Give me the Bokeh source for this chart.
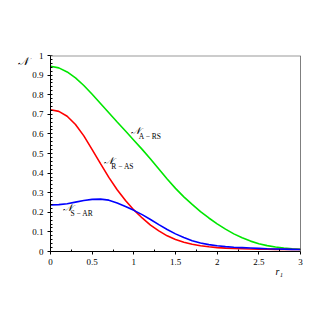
from bokeh.plotting import figure
from bokeh.models import Range1d, Span, FixedTicker, Label, Title
from bokeh.embed import file_html
from bokeh.resources import INLINE

r1 = [0.0, 0.1, 0.2, 0.3, 0.4, 0.5, 0.6, 0.7, 0.8, 0.9, 1.0,
      1.1, 1.2, 1.3, 1.4, 1.5, 1.6, 1.7, 1.8, 1.9, 2.0,
      2.1, 2.2, 2.3, 2.4, 2.5, 2.6, 2.7, 2.8, 2.9, 3.0]

n_a_rs = [0.945, 0.937, 0.916, 0.886, 0.847, 0.802, 0.755, 0.708, 0.661, 0.615, 0.568,
          0.521, 0.472, 0.421, 0.370, 0.322, 0.279, 0.240, 0.204, 0.171, 0.141,
          0.114, 0.090, 0.070, 0.053, 0.040, 0.030, 0.023, 0.018, 0.014, 0.011]

n_r_as = [0.723, 0.715, 0.690, 0.648, 0.590, 0.520, 0.448, 0.378, 0.315, 0.260, 0.212,
          0.171, 0.135, 0.105, 0.080, 0.061, 0.047, 0.037, 0.029, 0.024, 0.020,
          0.017, 0.015, 0.014, 0.013, 0.012, 0.012, 0.011, 0.011, 0.010, 0.010]

n_s_ar = [0.238, 0.239, 0.244, 0.252, 0.260, 0.266, 0.267, 0.262, 0.248, 0.230, 0.210,
          0.188, 0.163, 0.137, 0.112, 0.090, 0.071, 0.055, 0.043, 0.035, 0.029,
          0.025, 0.022, 0.020, 0.018, 0.016, 0.014, 0.013, 0.012, 0.011, 0.010]

x_ticks = [0, 0.5, 1, 1.5, 2, 2.5, 3]
y_ticks = [0, 0.1, 0.2, 0.3, 0.4, 0.5, 0.6, 0.7, 0.8, 0.9, 1]

curve_names = ["A \u2212 RS", "R \u2212 AS", "S \u2212 AR"]
curve_colors = ["#00e600", "#ff0000", "#0000ff"]
label_pos = [(0.97, 0.615), (0.64, 0.465), (0.15, 0.225)]

x_title = "r\u2081"
y_title = "\U0001D4A9"

SERIF = "Liberation Serif"
NSYM = "\U0001D4A9"

p = figure(width=311, height=311, output_backend="svg", toolbar_location=None,
           x_range=Range1d(0, 3), y_range=Range1d(0, 1),
           min_border_left=50, min_border_right=11, min_border_top=55, min_border_bottom=60)
p.outline_line_color = None
p.grid.grid_line_color = None

for ys, c in zip([n_a_rs, n_r_as, n_s_ar], curve_colors):
    p.line(r1, ys, line_color=c, line_width=1.6)

p.add_layout(Span(location=1, dimension="width", line_color="#999999", line_width=2))
p.add_layout(Span(location=3, dimension="height", line_color="#000000", line_width=1))

p.xaxis.ticker = FixedTicker(ticks=x_ticks, minor_ticks=[0.25, 0.75, 1.25, 1.75, 2.25, 2.75])
p.yaxis.ticker = FixedTicker(ticks=y_ticks,
                             minor_ticks=[round(i * 0.02, 2) for i in range(51)])
for ax in (p.xaxis, p.yaxis):
    ax.major_label_text_font = SERIF
    ax.major_label_text_font_size = "9px"
    ax.major_label_text_color = "#000000"
    ax.axis_line_color = "#000000"
    ax.major_tick_line_color = "#000000"
    ax.minor_tick_line_color = "#000000"
    ax.major_tick_out = 3
    ax.major_tick_in = 0
    ax.minor_tick_out = 0
    ax.minor_tick_in = 2
p.xaxis.major_label_standoff = 4
p.yaxis.major_label_standoff = 4

p.add_layout(Title(text=y_title, align="left", offset=-33, standoff=-22,
                   text_font=SERIF, text_font_size="11px", text_font_style="italic",
                   text_color="#000000"), "above")
p.add_layout(Title(text=x_title, align="left", offset=225, standoff=-8,
                   text_font=SERIF, text_font_size="10px", text_font_style="italic",
                   text_color="#000000"), "below")


def add_label(x, y, txt, size, italic=False):
    p.add_layout(Label(x=x, y=y, text=txt, text_font=SERIF, text_font_size=size,
                       text_font_style="italic" if italic else "normal",
                       text_color="#000000", text_baseline="middle", text_align="left"))


for (lx, ly), name in zip(label_pos, curve_names):
    add_label(lx, ly, NSYM, "10px", italic=True)
    add_label(lx + 0.09, ly - 0.03, name, "7.5px")

open("out.html", "w").write(file_html(p, INLINE))
